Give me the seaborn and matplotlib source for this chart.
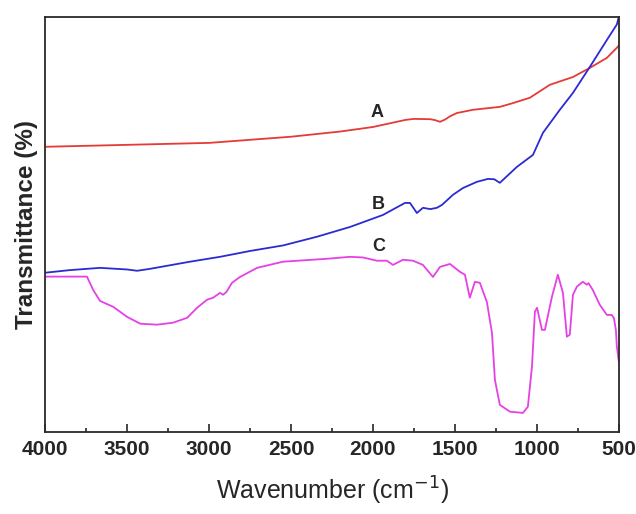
import matplotlib
matplotlib.use("Agg")
import matplotlib.pyplot as plt
import numpy as np
import pandas as pd
import seaborn as sns

# FTIR spectra, transmittance in arbitrary units
wn_a = [4000, 3500, 3000, 2500, 2200, 2000, 1800, 1750, 1650, 1620, 1591, 1560, 1530,
        1488, 1390, 1226, 1150, 1043, 921, 780, 677, 573, 512, 500]
t_a = [878, 884, 890, 909, 925, 939, 961, 964, 963, 960, 955, 962, 972,
       982, 992, 1001, 1012, 1029, 1069, 1093, 1121, 1152, 1183, 1190]

wn_b = [4000, 3850, 3665, 3500, 3439, 3360, 3116, 2933, 2750, 2549, 2341, 2140, 1939,
        1805, 1774, 1732, 1695, 1650, 1610, 1579, 1512, 1451, 1366, 1299, 1260, 1226,
        1122, 1024, 963, 860, 780, 677, 573, 512, 500]
t_b = [490, 498, 505, 500, 496, 502, 524, 539, 557, 574, 601, 631, 668,
       705, 705, 674, 690, 686, 690, 699, 730, 751, 770, 779, 778, 767,
       816, 853, 921, 992, 1044, 1124, 1207, 1255, 1278]

wn_c = [4000, 3745, 3707, 3665, 3585, 3500, 3420, 3317, 3220, 3134, 3073, 3012, 2975,
        2933, 2915, 2895, 2860, 2811, 2707, 2549, 2280, 2140, 2061, 1976, 1915, 1878,
        1817, 1756, 1695, 1634, 1591, 1530, 1470, 1439, 1409, 1378, 1348, 1305, 1274,
        1256, 1226, 1165, 1085, 1055, 1030, 1012, 999, 969, 951, 908, 872, 841, 817,
        799, 780, 756, 720, 695, 685, 659, 616, 573, 543, 530, 518, 512, 500]
t_c = [478, 478, 437, 403, 385, 354, 333, 330, 336, 351, 382, 407, 413,
       428, 422, 430, 459, 477, 505, 524, 533, 539, 537, 527, 527, 514,
       530, 527, 514, 477, 508, 517, 493, 484, 413, 462, 459, 400, 305,
       160, 83, 62, 58, 77, 200, 370, 382, 314, 314, 416, 484, 428, 293,
       299, 422, 447, 462, 453, 458, 437, 391, 360, 360, 350, 314, 262, 216]

labels = ["A", "B", "C"]
label_x = [1975, 1970, 1965]
label_y = [985, 699, 570]
colors = ["#e53a35", "#2b2bd3", "#e640e6"]

df = pd.concat([
    pd.DataFrame({"wn": wn_a, "t": t_a, "sample": "A"}),
    pd.DataFrame({"wn": wn_b, "t": t_b, "sample": "B"}),
    pd.DataFrame({"wn": wn_c, "t": t_c, "sample": "C"}),
])

sns.set_style("ticks")
plt.rcParams["font.family"] = ["Liberation Sans", "DejaVu Sans"]

fig = plt.figure(figsize=(6.36, 5.14), dpi=100)
ax = fig.add_axes([0.071, 0.16, 0.902, 0.807])

sns.lineplot(data=df, x="wn", y="t", hue="sample", palette=colors,
             sort=False, estimator=None, lw=1.3, legend=False, ax=ax)

for lab, x, y in zip(labels, label_x, label_y):
    ax.text(x, y, lab, fontsize=13, fontweight="bold", ha="center", va="center")

ax.set_xlim(4000, 500)
ax.set_ylim(0, 1278)
ax.set_xticks(np.arange(4000, 499, -500))
ax.set_xticks(np.arange(3750, 500, -500), minor=True)
ax.tick_params(axis="x", which="major", direction="in", length=6, width=1.2,
               labelsize=15, pad=6)
ax.tick_params(axis="x", which="minor", direction="in", length=3, width=1.2)
for lbl in ax.get_xticklabels():
    lbl.set_fontweight("bold")
ax.set_yticks([])
ax.set_xlabel("Wavenumber (cm$^{-1}$)", fontsize=18, labelpad=11)
ax.set_ylabel("Transmittance (%)", fontsize=17.5, fontweight="bold", labelpad=5)
for sp in ax.spines.values():
    sp.set_visible(True)
    sp.set_linewidth(1.3)
    sp.set_color("#2a2a2a")

fig.savefig("out.png", dpi=100)
